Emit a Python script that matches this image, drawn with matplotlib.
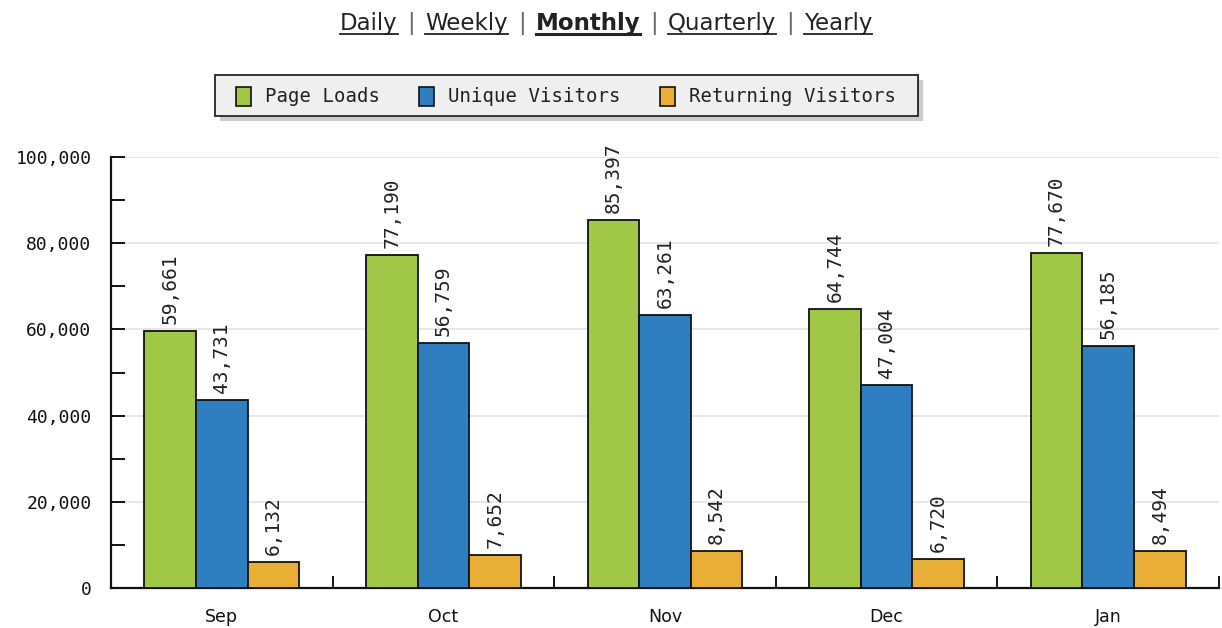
import matplotlib
matplotlib.use("Agg")
import matplotlib.pyplot as plt
from matplotlib.ticker import MultipleLocator, FuncFormatter
from matplotlib.patches import Rectangle
import numpy as np

categories = ["Sep", "Oct", "Nov", "Dec", "Jan"]
page_loads = [59661, 77190, 85397, 64744, 77670]
unique_visitors = [43731, 56759, 63261, 47004, 56185]
returning_visitors = [6132, 7652, 8542, 6720, 8494]
series_names = ["Page Loads", "Unique Visitors", "Returning Visitors"]
series_colors = ["#a0c846", "#2f7ebf", "#e8ae36"]
nav_items = ["Daily", "Weekly", "Monthly", "Quarterly", "Yearly"]
nav_active = "Monthly"

W, H = 1222, 628
fig = plt.figure(figsize=(W / 100, H / 100), dpi=100)
ax = fig.add_axes([111 / W, 40 / H, 1108 / W, 431 / H])

x = np.arange(len(categories))
bw = 0.233
mono = "DejaVu Sans Mono"
all_series = [page_loads, unique_visitors, returning_visitors]
for i, (vals, col) in enumerate(zip(all_series, series_colors)):
    pos = x + (i - 1) * bw
    ax.bar(pos, vals, width=bw, color=col, edgecolor="#111111", linewidth=1.3, zorder=3)
    for px, v in zip(pos, vals):
        ax.annotate(f"{v:,}", (px, v), xytext=(0, 5), textcoords="offset points",
                    rotation=90, ha="center", va="bottom", family=mono,
                    fontsize=14, color="#222222", zorder=4)

ax.set_xlim(-0.5, len(categories) - 0.5)
ax.set_ylim(0, 100000)
ax.yaxis.set_major_locator(MultipleLocator(20000))
ax.yaxis.set_minor_locator(MultipleLocator(10000))
ax.yaxis.set_major_formatter(FuncFormatter(lambda v, p: f"{int(v):,}"))
ax.grid(axis="y", which="major", color="#e3e3e3", linewidth=1.2, zorder=0)
ax.set_axisbelow(True)
for s in ["top", "right"]:
    ax.spines[s].set_visible(False)
for s in ["left", "bottom"]:
    ax.spines[s].set_linewidth(1.6)
    ax.spines[s].set_color("#111111")
ax.tick_params(axis="y", which="both", direction="in", length=10, width=1.4,
               labelsize=13, pad=14, colors="#111111")
for lab in ax.get_yticklabels():
    lab.set_family(mono)

# x ticks at group boundaries, labels at centers
ax.set_xticks(np.arange(len(categories)) + 0.5)
ax.set_xticklabels([])
ax.tick_params(axis="x", which="major", direction="in", length=9, width=1.4, colors="#111111")
ax.set_xticks(x, minor=True)
ax.set_xticklabels(categories, minor=True, fontsize=12.5, family="DejaVu Sans", color="#111111")
ax.tick_params(axis="x", which="minor", length=0, pad=14.5)

# legend with shadow
lx0, ly0, lw, lh = 215, 75, 703, 41
fig.patches.append(Rectangle(((lx0 + 5) / W, 1 - (ly0 + lh + 5) / H), lw / W, lh / H,
                             transform=fig.transFigure, facecolor="#cccccc",
                             edgecolor="none", zorder=1))
fig.patches.append(Rectangle((lx0 / W, 1 - (ly0 + lh) / H), lw / W, lh / H,
                             transform=fig.transFigure, facecolor="#efefef",
                             edgecolor="#333333", linewidth=1.4, zorder=2))
sw_x = [236, 419, 660]
for name, col, sx in zip(series_names, series_colors, sw_x):
    fig.patches.append(Rectangle((sx / W, 1 - 106 / H), 15 / W, 19 / H,
                                 transform=fig.transFigure, facecolor=col,
                                 edgecolor="#111111", linewidth=1.2, zorder=3))
    fig.text((sx + 29) / W, 1 - 96.5 / H, name, family=mono, fontsize=13.7,
             va="center", ha="left", color="#222222", zorder=4)

# nav title with underlines
fig.canvas.draw()
renderer = fig.canvas.get_renderer()
fs = 16.5
sep_gap = 5
tmp = []
for i, item in enumerate(nav_items):
    t = fig.text(0, 0, item, fontsize=fs, family="DejaVu Sans",
                 fontweight="bold" if item == nav_active else "normal", color="#222222")
    tmp.append(("item", t))
    if i < len(nav_items) - 1:
        s = fig.text(0, 0, "|", fontsize=fs, family="DejaVu Sans", color="#666666")
        tmp.append(("sep", s))
widths = [t.get_window_extent(renderer).width for _, t in tmp]
total = sum(widths) + sep_gap * 2 * (len(tmp) - 1)
cx = 606
cur = cx - total / 2
ybase = H - 30
for (kind, t), w in zip(tmp, widths):
    t.set_position((cur / W, ybase / H))
    t.set_va("baseline")
    if kind == "item":
        fig.add_artist(plt.Line2D([cur / W, (cur + w) / W], [(ybase - 4) / H, (ybase - 4) / H],
                                  transform=fig.transFigure, color="#222222",
                                  linewidth=2.2 if t.get_text() == nav_active else 1.3))
    cur += w + sep_gap * 2

fig.savefig("out.png", dpi=100, facecolor="white")
